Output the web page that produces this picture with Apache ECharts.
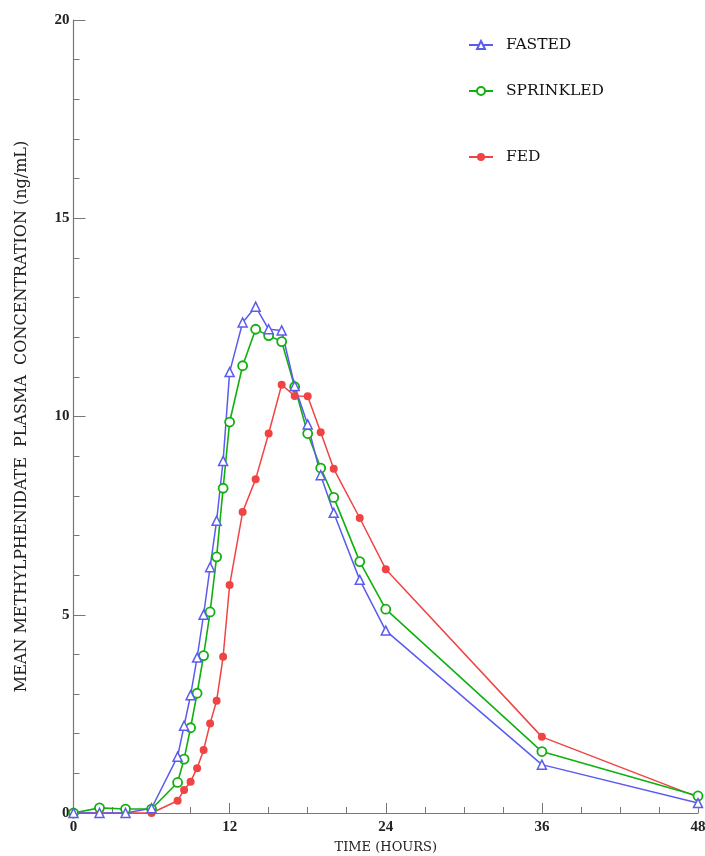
<!DOCTYPE html>
<html>
<head>
<meta charset="utf-8">
<script src="https://cdn.jsdelivr.net/npm/echarts@6/dist/echarts.min.js"></script>
<style>html,body{margin:0;padding:0;background:#fff}#c{width:705px;height:856px}</style>
</head>
<body>
<div id="c"></div>
<script>
const hours = [0,2,4,6,8,8.5,9,9.5,10,10.5,11,11.5,12,13,14,15,16,17,18,19,20,22,24,36,48];
const fasted = [0,0,0,0.12,1.42,2.2,2.97,3.92,5.0,6.2,7.37,8.88,11.12,12.37,12.77,12.2,12.17,10.77,9.8,8.52,7.57,5.88,4.6,1.22,0.25];
const sprinkled = [0,0.13,0.1,0.1,0.77,1.36,2.15,3.02,3.97,5.07,6.46,8.19,9.86,11.28,12.2,12.04,11.89,10.75,9.57,8.7,7.96,6.34,5.14,1.55,0.43];
const fed = [0,0,0,0,0.31,0.58,0.79,1.13,1.59,2.26,2.83,3.94,5.75,7.59,8.42,9.57,10.8,10.52,10.51,9.6,8.68,7.44,6.15,1.92,0.4];
const xTicks = [0,12,24,36,48];
const yTicks = [0,5,10,15,20];

const pair = (xs, ys) => xs.map((x, i) => [x, ys[i]]);
const serif = 'Liberation Serif';
const wide = 'DejaVu Serif';
const blue = '#5b5bf0', green = '#10b010', red = '#f04444';

const chart = echarts.init(document.getElementById('c'));
const legendBase = {orient:'vertical', left:463, itemWidth:24, itemHeight:10,
  textStyle:{fontFamily:wide, fontSize:15.5, color:'#111', padding:[0,0,0,8]}};
chart.setOption({
  animation:false,
  grid:{left:73.5, right:7, top:20, bottom:43, containLabel:false, outerBoundsMode:'none'},
  legend:[
    Object.assign({}, legendBase, {top:32, data:['FASTED']}),
    Object.assign({}, legendBase, {top:78, data:['SPRINKLED']}),
    Object.assign({}, legendBase, {top:144, data:['FED']})
  ],
  xAxis:{type:'value', min:0, max:48, interval:12,
    name:'TIME (HOURS)', nameLocation:'middle', nameGap:28,
    nameTextStyle:{fontFamily:wide, fontSize:13, color:'#222'},
    axisLine:{lineStyle:{color:'#777', width:1.2}},
    axisTick:{inside:true, length:10, lineStyle:{color:'#777'}},
    minorTick:{show:true, splitNumber:4, length:6, lineStyle:{color:'#777'}},
    splitLine:{show:false},
    axisLabel:{margin:7, fontFamily:serif, fontSize:15, fontWeight:'bold', color:'#222',
      formatter:v => xTicks.includes(v) ? String(v) : ''}
  },
  yAxis:{type:'value', min:0, max:20, interval:5,
    name:'MEAN METHYLPHENIDATE  PLASMA  CONCENTRATION (ng/mL)', nameLocation:'middle', nameGap:44,
    nameTextStyle:{fontFamily:wide, fontSize:16, color:'#222'},
    axisLine:{show:true, lineStyle:{color:'#777', width:1.2}},
    axisTick:{show:true, inside:true, length:12, lineStyle:{color:'#777'}},
    minorTick:{show:true, splitNumber:5, length:6, lineStyle:{color:'#777'}},
    splitLine:{show:false},
    axisLabel:{margin:4, fontFamily:serif, fontSize:15, fontWeight:'bold', color:'#222',
      formatter:v => yTicks.includes(v) ? String(v) : ''}
  },
  series:[
    {name:'FED', type:'line', data:pair(hours, fed), symbol:'circle', symbolSize:8,
      itemStyle:{color:red}, lineStyle:{color:red, width:1.5}},
    {name:'SPRINKLED', type:'line', data:pair(hours, sprinkled), symbol:'circle', symbolSize:9,
      itemStyle:{color:'#fff', borderColor:green, borderWidth:1.8}, lineStyle:{color:green, width:1.6}},
    {name:'FASTED', type:'line', data:pair(hours, fasted), symbol:'triangle', symbolSize:9,
      itemStyle:{color:'#fff', borderColor:blue, borderWidth:1.5}, lineStyle:{color:blue, width:1.5}}
  ]
});
</script>
</body>
</html>
